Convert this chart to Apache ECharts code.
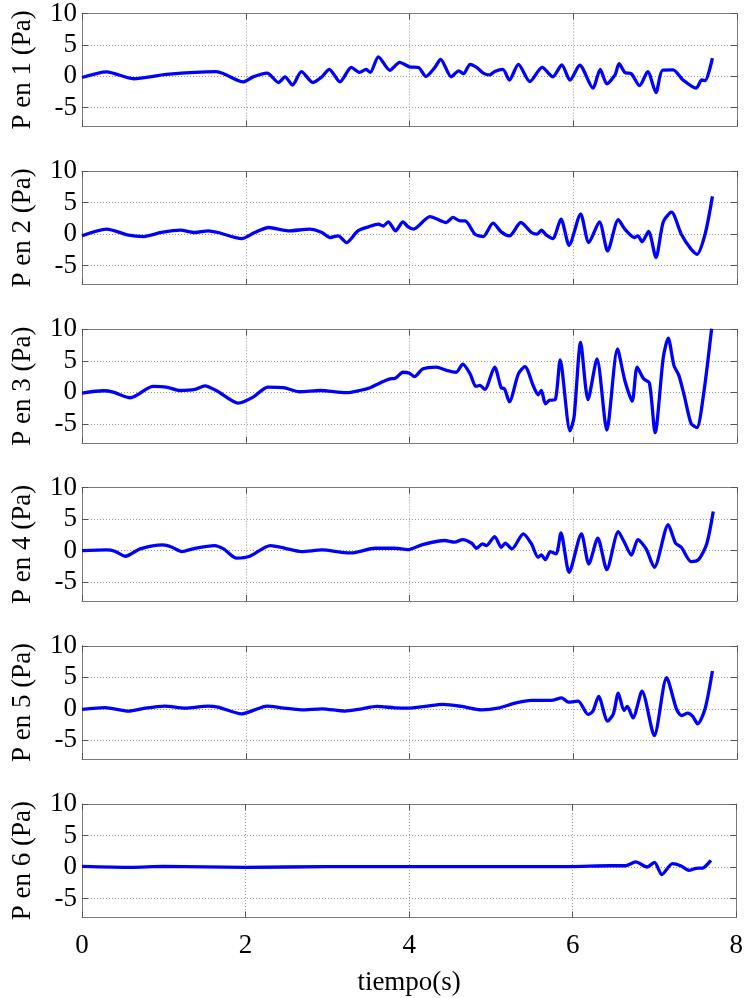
<!DOCTYPE html>
<html><head><meta charset="utf-8">
<script src="https://cdn.jsdelivr.net/npm/echarts@6/dist/echarts.min.js"></script>
<style>html,body{margin:0;padding:0;background:#fff}#c{width:746px;height:998px}</style>
</head><body><div id="c"></div>
<script>
// Panel 1
const t1=[0,0.30,0.63,1.03,1.64,1.73,1.97,2.09,2.26,2.40,2.48,2.57,2.68,2.82,2.93,3.02,3.15,3.29,3.39,3.47,3.52,3.62,3.76,3.88,4.00,4.11,4.20,4.31,4.38,4.51,4.60,4.66,4.74,4.82,4.90,4.98,5.04,5.14,5.22,5.33,5.47,5.62,5.75,5.86,5.96,6.08,6.24,6.33,6.41,6.51,6.56,6.63,6.71,6.81,6.91,7.01,7.09,7.22,7.34,7.50,7.57,7.61,7.70];
const p1=[-0.2,0.7,-0.4,0.3,0.74,0.4,-0.9,-0.1,0.5,-1.0,-0.1,-1.4,0.74,-1.0,-0.1,1.1,-0.9,1.4,0.6,1.1,0.6,3.1,0.95,2.2,1.5,1.4,-0.05,1.4,2.7,-0.1,0.85,0.4,1.9,1.4,0.5,0.2,0.74,1.1,-0.6,1.9,-0.85,1.4,-0.1,1.8,-0.6,1.75,-1.9,1.1,-1.2,0.2,2.0,0.6,0.4,-1.5,0.74,-2.6,0.95,1.0,-0.6,-1.9,-0.6,-0.7,2.9];
// Panel 2
const t2=[0,0.30,0.57,0.75,0.97,1.20,1.38,1.54,1.66,1.95,2.11,2.28,2.52,2.78,2.93,3.03,3.13,3.23,3.37,3.50,3.62,3.68,3.74,3.83,3.92,3.98,4.05,4.25,4.45,4.53,4.62,4.68,4.80,4.90,5.02,5.12,5.22,5.36,5.49,5.56,5.61,5.67,5.75,5.85,5.95,6.09,6.19,6.32,6.42,6.55,6.63,6.75,6.79,6.84,6.92,7.01,7.10,7.20,7.32,7.44,7.51,7.61,7.70];
const p2=[-0.25,0.8,-0.15,-0.37,0.27,0.64,0.27,0.53,0.27,-0.7,0.27,1.06,0.53,0.8,0.27,-0.53,-0.27,-1.33,0.53,1.17,1.6,1.3,1.97,0.53,1.97,1.2,0.8,2.8,1.86,2.66,2.13,2.13,0,-0.37,1.75,0.37,-0.27,1.86,0.27,0,0.64,-0.1,-0.7,2.4,-1.75,3.2,-1.33,1.97,-2.66,2.3,0.8,-0.53,-0.27,-1.2,0.43,-3.7,1.97,3.5,0,-2.4,-3.2,0,6.0];
// Panel 3
const t3=[0,0.26,0.38,0.59,0.87,1.03,1.20,1.38,1.50,1.64,1.91,2.09,2.27,2.46,2.66,2.91,3.23,3.39,3.52,3.64,3.76,3.82,3.92,4.00,4.06,4.16,4.33,4.45,4.57,4.65,4.74,4.81,4.86,4.92,5.04,5.12,5.16,5.22,5.33,5.41,5.51,5.57,5.61,5.66,5.71,5.78,5.84,5.96,6.01,6.09,6.18,6.29,6.41,6.54,6.63,6.72,6.78,6.86,6.93,7.00,7.10,7.16,7.23,7.29,7.36,7.44,7.51,7.59,7.69];
const p3=[-0.1,0.26,0.05,-0.85,0.95,0.85,0.3,0.47,1.05,0.3,-1.7,-0.75,0.85,0.75,0.1,0.3,-0.05,0.3,0.75,1.5,2.15,2.2,3.2,3.05,2.5,3.7,4.0,3.5,3.2,4.5,2.95,0.95,1.1,0.47,4.0,0.74,0.58,-1.5,2.95,4.1,1.1,-0.37,0.3,-1.8,-1.26,-1.15,5.15,-6.1,-3.9,7.95,-1.15,5.3,-6.0,6.9,1.9,-1.4,4.0,2.15,1.5,-6.4,5.6,8.6,4.25,2.7,-0.75,-4.95,-5.6,-0.47,10.1];
// Panel 4
const t4=[0,0.30,0.40,0.53,0.71,0.99,1.10,1.22,1.38,1.62,1.73,1.89,2.05,2.30,2.48,2.68,2.93,3.17,3.29,3.58,3.82,3.98,4.16,4.43,4.55,4.65,4.76,4.82,4.89,4.94,5.04,5.12,5.17,5.25,5.39,5.49,5.57,5.61,5.66,5.72,5.79,5.85,5.95,6.10,6.19,6.30,6.41,6.55,6.62,6.71,6.79,6.89,6.99,7.16,7.25,7.32,7.44,7.53,7.63,7.71];
const p4=[0,0.1,-0.1,-0.9,0.27,0.9,0.53,-0.16,0.37,0.8,0.27,-1.2,-0.9,0.8,0.37,-0.16,0.1,-0.27,-0.37,0.37,0.37,0.15,0.96,1.6,1.33,1.75,1.17,0.37,1.06,0.8,2.23,0.53,1.17,0.27,2.66,1.06,-1.06,-0.7,-1.44,-0.16,-0.53,2.8,-3.46,2.66,-2.13,1.97,-3.0,3.0,1.44,-0.7,1.75,0.27,-2.66,4.1,1.17,0.53,-1.75,-1.44,1.06,6.2];
// Panel 5
const t5=[0,0.28,0.57,0.77,1.01,1.26,1.54,1.66,1.95,2.07,2.26,2.44,2.68,2.93,3.21,3.42,3.60,3.82,3.98,4.19,4.41,4.64,4.88,5.08,5.29,5.49,5.61,5.73,5.86,5.94,6.06,6.18,6.24,6.31,6.42,6.49,6.55,6.62,6.66,6.73,6.84,6.99,7.14,7.26,7.32,7.40,7.46,7.52,7.61,7.70];
const p5=[-0.1,0.2,-0.37,0.1,0.43,0.1,0.43,0.27,-0.8,-0.37,0.43,0.16,-0.16,0,-0.37,0,0.37,0.16,0.1,0.37,0.7,0.37,-0.16,0.1,0.9,1.33,1.33,1.33,1.75,1.06,1.22,-0.9,-0.37,1.97,-1.97,-0.8,2.5,-0.27,0.37,-1.44,2.8,-4.25,4.95,0,-1.06,-0.7,-1.22,-2.4,0,6.0];
// Panel 6
const t6=[0,0.6,1.0,2.0,3.0,4.0,5.0,5.96,6.45,6.65,6.77,6.91,7.00,7.09,7.22,7.32,7.42,7.51,7.59,7.69];
const p6=[0.1,-0.05,0.1,-0.05,0.05,0.05,0.05,0.05,0.2,0.2,0.8,0,0.74,-1.2,0.53,0.2,-0.53,-0.2,-0.16,1.05];

const timesList=[t1,t2,t3,t4,t5,t6];
const valuesList=[p1,p2,p3,p4,p5,p6];
const yNames=['P en 1 (Pa)','P en 2 (Pa)','P en 3 (Pa)','P en 4 (Pa)','P en 5 (Pa)','P en 6 (Pa)'];
const yTickValues=[-5,0,5,10];
const xAxisTitle='tiempo(s)';

const FONT="'Liberation Serif','Times New Roman',serif";
const grids=[],xAxes=[],yAxes=[],series=[];
const boxColor='#7a7a7a';
for(let i=0;i<6;i++){
  const top=13+i*158.2;
  grids.push({left:82,right:9,top:top,height:113.4,containLabel:false});
  const last=(i===5);
  xAxes.push({type:'value',gridIndex:i,min:0,max:8,interval:2,position:'bottom',
    axisLine:{show:true,onZero:false,lineStyle:{color:boxColor,width:1}},
    axisTick:{show:true,inside:true,length:6,lineStyle:{color:'#555'}},
    axisLabel:{show:last,fontFamily:FONT,fontSize:27,color:'#000',margin:15},
    splitLine:{show:true,lineStyle:{type:[1,2],color:'#999',width:1}},
    name:last?xAxisTitle:'',nameLocation:'middle',nameGap:52,
    nameTextStyle:{fontFamily:FONT,fontSize:27,color:'#000'}});
  xAxes.push({type:'value',gridIndex:i,min:0,max:8,interval:2,position:'top',
    axisLine:{show:true,onZero:false,lineStyle:{color:boxColor,width:1}},
    axisTick:{show:true,inside:true,length:6,lineStyle:{color:'#555'}},
    axisLabel:{show:false},splitLine:{show:false}});
  yAxes.push({type:'value',gridIndex:i,min:-8,max:10,position:'left',
    axisLine:{show:true,onZero:false,lineStyle:{color:boxColor,width:1}},
    axisTick:{show:true,inside:true,length:6,customValues:yTickValues,lineStyle:{color:'#555'}},
    axisLabel:{show:true,customValues:yTickValues,fontFamily:FONT,fontSize:27,color:'#000',margin:5},
    splitLine:{show:true,lineStyle:{type:[1,2],color:'#999',width:1}},
    name:yNames[i],nameLocation:'middle',nameGap:46,nameRotate:90,
    nameTextStyle:{fontFamily:FONT,fontSize:27,color:'#000'}});
  yAxes.push({type:'value',gridIndex:i,min:-8,max:10,position:'right',
    axisLine:{show:true,onZero:false,lineStyle:{color:boxColor,width:1}},
    axisTick:{show:true,inside:true,length:6,customValues:yTickValues,lineStyle:{color:'#555'}},
    axisLabel:{show:false},splitLine:{show:false}});
  const data=timesList[i].map((t,k)=>[t,valuesList[i][k]]);
  series.push({type:'line',xAxisIndex:2*i,yAxisIndex:2*i,data:data,showSymbol:false,
    smooth:0.25,lineStyle:{color:'#0000ff',width:3.3},itemStyle:{color:'#0000ff'},animation:false});
}
const chart=echarts.init(document.getElementById('c'),null,{renderer:'canvas'});
chart.setOption({animation:false,backgroundColor:'#fff',grid:grids,xAxis:xAxes,yAxis:yAxes,series:series});
</script></body></html>
